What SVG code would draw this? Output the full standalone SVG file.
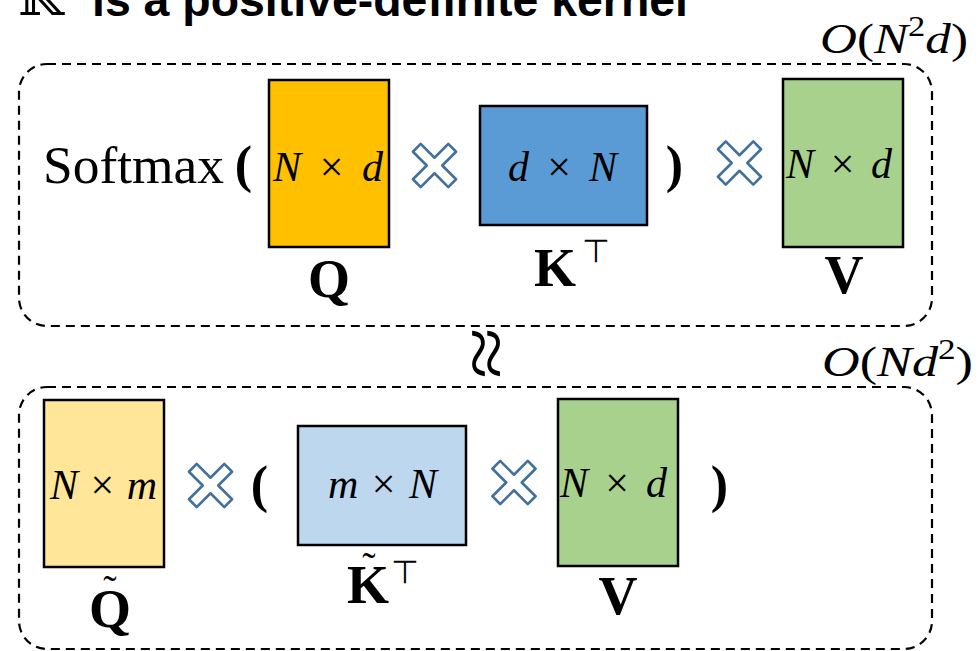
<svg xmlns="http://www.w3.org/2000/svg" width="980" height="651" viewBox="0 0 980 651">
<defs>
<style>
.box{fill:none;stroke:#000;stroke-width:2.2;stroke-dasharray:9 6}
.mat{stroke:#000;stroke-width:2.5}
.mul{fill:#fff;stroke:#41719C;stroke-width:2.6;stroke-linejoin:round}
.math{font-family:"Liberation Serif","DejaVu Serif",serif;fill:#000}
.it{font-style:italic}
.bold{font-family:"Liberation Serif","DejaVu Serif",serif;font-weight:bold;font-size:54px;text-anchor:middle}
.par{font-family:"Liberation Serif","DejaVu Serif",serif;font-weight:bold;font-size:52px;text-anchor:middle}
.top{font-family:"DejaVu Sans",sans-serif;font-size:32px}
.tl{font-size:40px;font-weight:normal}
</style>
<path id="x" class="mul" d="M5.5,-25 L5.5,-5.5 L25,-5.5 L25,5.5 L5.5,5.5 L5.5,25 L-5.5,25 L-5.5,5.5 L-25,5.5 L-25,-5.5 L-5.5,-5.5 L-5.5,-25 Z" transform="rotate(45)"/>
</defs>
<rect width="980" height="651" fill="#fff"/>

<g id="header">
<text x="18" y="15" font-family="DejaVu Serif,DejaVu Sans,sans-serif" font-size="52">𝕂</text>
<text x="92" y="16" font-family="Liberation Sans,Arial,sans-serif" font-weight="bold" font-size="46" textLength="596" lengthAdjust="spacingAndGlyphs">is a positive-definite kernel</text>
</g>

<g id="connectors"></g>

<g id="exact">
<rect class="box" x="19" y="64" width="913" height="262" rx="28"/>
<text class="math" x="820" y="53" font-size="43" textLength="148" lengthAdjust="spacingAndGlyphs"><tspan class="it">O</tspan>(<tspan class="it">N</tspan><tspan font-size="29" dy="-17">2</tspan><tspan class="it" dy="17">d</tspan>)</text>
<text class="math" x="43" y="183" font-size="52" textLength="181" lengthAdjust="spacingAndGlyphs">Softmax</text>
<text class="par" x="243.5" y="182">(</text>
<text class="par" x="674.5" y="182">)</text>
<use href="#x" x="434.5" y="165.5"/>
<use href="#x" x="739.5" y="163"/>
</g>

<g id="Q">
<rect class="mat" x="269" y="80" width="120" height="167" fill="#FFC000"/>
<text class="math" x="273" y="181" font-size="42" textLength="110" lengthAdjust="spacing"><tspan class="it">N</tspan> × <tspan class="it">d</tspan></text>
<text class="bold" x="329" y="297">Q</text>
</g>

<g id="KT">
<rect class="mat" x="480" y="106" width="167" height="119" fill="#5B9BD5"/>
<text class="math" x="508" y="181" font-size="42" textLength="109" lengthAdjust="spacing"><tspan class="it">d</tspan> × <tspan class="it">N</tspan></text>
<text class="bold" x="555" y="286">K</text>
<text class="top" x="582" y="262">⊤</text>
</g>

<g id="V">
<rect class="mat" x="783" y="79" width="120" height="168" fill="#A9D18E"/>
<text class="math" x="786" y="178" font-size="42" textLength="106" lengthAdjust="spacing"><tspan class="it">N</tspan> × <tspan class="it">d</tspan></text>
<text class="bold" x="844" y="293">V</text>
</g>

<g id="approx">
<text transform="translate(481,354) rotate(90) scale(1.3,1.05)" x="0" y="19" font-family="Liberation Serif,serif" font-size="72" text-anchor="middle">≈</text>
</g>

<g id="linear">
<rect class="box" x="19" y="387" width="913" height="262" rx="28"/>
<text class="math" x="822" y="376" font-size="43" textLength="151" lengthAdjust="spacingAndGlyphs"><tspan class="it">O</tspan>(<tspan class="it">Nd</tspan><tspan font-size="29" dy="-17">2</tspan><tspan dy="17">)</tspan></text>
<text class="par" x="259.5" y="502">(</text>
<text class="par" x="719.5" y="502">)</text>
<use href="#x" x="210.5" y="485.5"/>
<use href="#x" x="514" y="482.5"/>
</g>

<g id="Qtilde">
<rect class="mat" x="44" y="400" width="120" height="167" fill="#FFE699"/>
<text class="math" x="50" y="499" font-size="42" textLength="107" lengthAdjust="spacing"><tspan class="it">N</tspan> × <tspan class="it">m</tspan></text>
<text class="bold" x="110" y="603"><tspan class="tl">˜</tspan><tspan x="110" y="627">Q</tspan></text>
</g>

<g id="KtildeT">
<rect class="mat" x="298" y="426" width="168" height="119" fill="#BDD7EE"/>
<text class="math" x="328" y="498" font-size="42" textLength="109" lengthAdjust="spacing"><tspan class="it">m</tspan> × <tspan class="it">N</tspan></text>
<text class="bold" x="369" y="580"><tspan class="tl">˜</tspan><tspan x="368" y="603">K</tspan></text>
<text class="top" x="391" y="583">⊤</text>
</g>

<g id="V2">
<rect class="mat" x="558" y="399" width="120" height="167" fill="#A9D18E"/>
<text class="math" x="560" y="497" font-size="42" textLength="107" lengthAdjust="spacing"><tspan class="it">N</tspan> × <tspan class="it">d</tspan></text>
<text class="bold" x="618" y="614">V</text>
</g>
</svg>
